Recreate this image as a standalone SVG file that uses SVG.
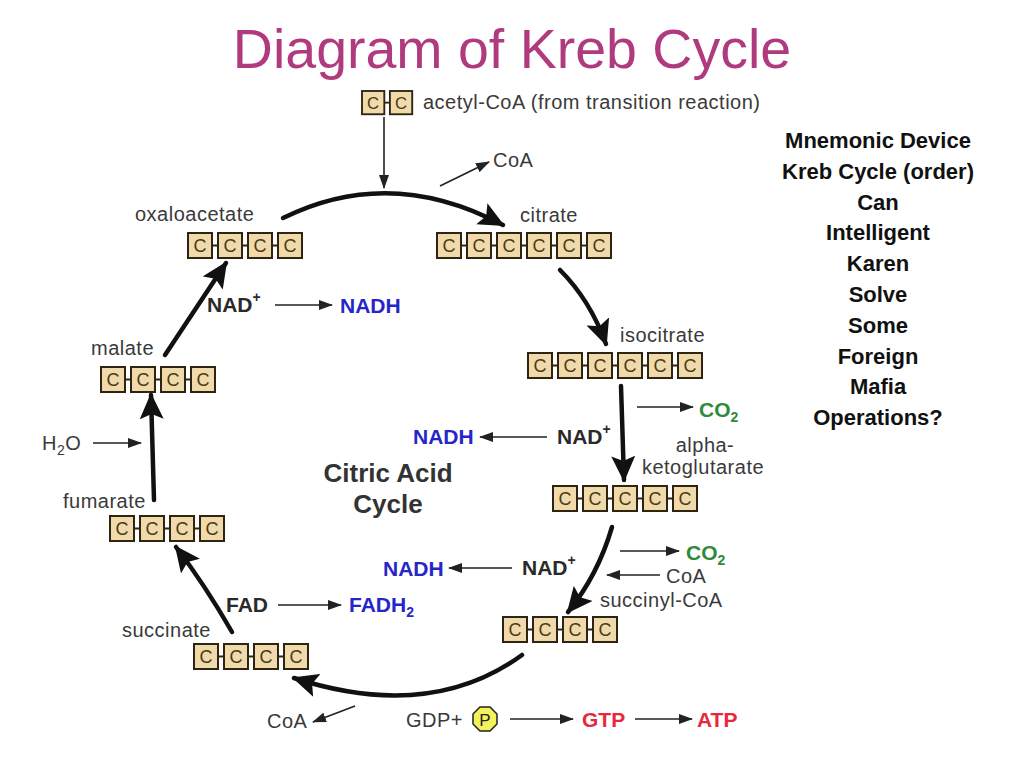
<svg xmlns="http://www.w3.org/2000/svg" xmlns:xlink="http://www.w3.org/1999/xlink" width="1024" height="768" viewBox="0 0 1024 768">
<style>
.lbl{font-family:"Liberation Sans",Arial,sans-serif;font-size:20px;letter-spacing:0.5px;fill:#3a3a3a}
.b{font-family:"Liberation Sans",Arial,sans-serif;font-size:21px;font-weight:bold;fill:#2a2a2a}
.blue{fill:#2626c8}
.green{fill:#2e8b3a}
.red{fill:#e8283c}
.mn{font-family:"Liberation Sans",Arial,sans-serif;font-size:22px;font-weight:bold;fill:#111;text-anchor:middle}
.box{fill:#f0d9ab;stroke:#2e2410;stroke-width:2}
.ct{font-family:"Liberation Sans",Arial,sans-serif;font-size:18px;fill:#4a3a12;text-anchor:middle}
.link{stroke:#2e2410;stroke-width:2;fill:none}
.big{fill:none;stroke:#111;stroke-width:4.5;stroke-linecap:round;marker-end:url(#bh)}
.thin{fill:none;stroke:#222;stroke-width:1.6;marker-end:url(#th)}
</style>
<defs>
<marker id="bh" markerUnits="userSpaceOnUse" markerWidth="28" markerHeight="24" refX="24" refY="12" orient="auto"><path d="M0,0 L26,12 L0,24 L5,12 z" fill="#111"/></marker>
<marker id="th" markerUnits="userSpaceOnUse" markerWidth="14" markerHeight="10" refX="13" refY="5" orient="auto"><path d="M0,0 L14,5 L0,10 z" fill="#222"/></marker>
<g id="c"><rect class="box" x="0" y="0" width="24" height="25"/><text class="ct" x="12" y="19">C</text></g>
</defs>
<rect width="1024" height="768" fill="#ffffff"/>
<text x="512" y="68" text-anchor="middle" font-family="'Liberation Sans',Arial,sans-serif" font-size="55.5" fill="#b03a7e">Diagram of Kreb Cycle</text>

<g id="mnemonic">
<text class="mn" x="878" y="148">Mnemonic Device</text>
<text class="mn" x="878" y="179">Kreb Cycle (order)</text>
<text class="mn" x="878" y="210">Can</text>
<text class="mn" x="878" y="240">Intelligent</text>
<text class="mn" x="878" y="271">Karen</text>
<text class="mn" x="878" y="302">Solve</text>
<text class="mn" x="878" y="333">Some</text>
<text class="mn" x="878" y="364">Foreign</text>
<text class="mn" x="878" y="394">Mafia</text>
<text class="mn" x="878" y="425">Operations?</text>
</g>

<g id="acetyl-coa">
<g transform="translate(362,91) scale(0.93)"><use href="#c" x="0"/><use href="#c" x="30"/><path class="link" d="M24,12.5h6"/></g>
<text class="lbl" x="423" y="109">acetyl-CoA (from transition reaction)</text>
</g>

<g id="oxaloacetate">
<text class="lbl" x="135" y="221">oxaloacetate</text>
<g transform="translate(188,233)"><use href="#c" x="0"/><use href="#c" x="30"/><use href="#c" x="60"/><use href="#c" x="90"/><path class="link" d="M24,12.5h6M54,12.5h6M84,12.5h6"/></g>
</g>

<g id="citrate">
<text class="lbl" x="520" y="222">citrate</text>
<g transform="translate(437,233)"><use href="#c" x="0"/><use href="#c" x="30"/><use href="#c" x="60"/><use href="#c" x="90"/><use href="#c" x="120"/><use href="#c" x="150"/><path class="link" d="M24,12.5h6M54,12.5h6M84,12.5h6M114,12.5h6M144,12.5h6"/></g>
</g>

<g id="isocitrate">
<text class="lbl" x="620" y="342">isocitrate</text>
<g transform="translate(528,353)"><use href="#c" x="0"/><use href="#c" x="30"/><use href="#c" x="60"/><use href="#c" x="90"/><use href="#c" x="120"/><use href="#c" x="150"/><path class="link" d="M24,12.5h6M54,12.5h6M84,12.5h6M114,12.5h6M144,12.5h6"/></g>
</g>

<g id="alpha-ketoglutarate">
<text class="lbl" x="705" y="452" text-anchor="middle">alpha-</text>
<text class="lbl" x="703" y="474" text-anchor="middle">ketoglutarate</text>
<g transform="translate(553,486)"><use href="#c" x="0"/><use href="#c" x="30"/><use href="#c" x="60"/><use href="#c" x="90"/><use href="#c" x="120"/><path class="link" d="M24,12.5h6M54,12.5h6M84,12.5h6M114,12.5h6"/></g>
</g>

<g id="succinyl-coa">
<text class="lbl" x="600" y="607">succinyl-CoA</text>
<g transform="translate(503,617)"><use href="#c" x="0"/><use href="#c" x="30"/><use href="#c" x="60"/><use href="#c" x="90"/><path class="link" d="M24,12.5h6M54,12.5h6M84,12.5h6"/></g>
</g>

<g id="succinate">
<text class="lbl" x="122" y="637">succinate</text>
<g transform="translate(194,644)"><use href="#c" x="0"/><use href="#c" x="30"/><use href="#c" x="60"/><use href="#c" x="90"/><path class="link" d="M24,12.5h6M54,12.5h6M84,12.5h6"/></g>
</g>

<g id="fumarate">
<text class="lbl" x="63" y="508">fumarate</text>
<g transform="translate(110,516)"><use href="#c" x="0"/><use href="#c" x="30"/><use href="#c" x="60"/><use href="#c" x="90"/><path class="link" d="M24,12.5h6M54,12.5h6M84,12.5h6"/></g>
</g>

<g id="malate">
<text class="lbl" x="91" y="355">malate</text>
<g transform="translate(101,367)"><use href="#c" x="0"/><use href="#c" x="30"/><use href="#c" x="60"/><use href="#c" x="90"/><path class="link" d="M24,12.5h6M54,12.5h6M84,12.5h6"/></g>
</g>

<g id="center-label">
<text x="388" y="482" text-anchor="middle" font-family="'Liberation Sans',Arial,sans-serif" font-size="26" font-weight="bold" fill="#333">Citric Acid</text>
<text x="388" y="513" text-anchor="middle" font-family="'Liberation Sans',Arial,sans-serif" font-size="26" font-weight="bold" fill="#333">Cycle</text>
</g>

<g id="side-products">
<text class="lbl" x="493" y="167">CoA</text>
<text class="b" x="207" y="312">NAD<tspan dy="-10" font-size="14">+</tspan></text>
<text class="b blue" x="340" y="313">NADH</text>
<text class="b green" x="699" y="417">CO<tspan dy="5" font-size="14">2</tspan></text>
<text class="b" x="557" y="444">NAD<tspan dy="-10" font-size="14">+</tspan></text>
<text class="b blue" x="413" y="444">NADH</text>
<text class="b green" x="686" y="560">CO<tspan dy="5" font-size="14">2</tspan></text>
<text class="lbl" x="666" y="583">CoA</text>
<text class="b" x="522" y="575">NAD<tspan dy="-10" font-size="14">+</tspan></text>
<text class="b blue" x="383" y="576">NADH</text>
<text class="b" x="226" y="612">FAD</text>
<text class="b blue" x="349" y="612">FADH<tspan dy="5" font-size="14">2</tspan></text>
<text class="lbl" x="42" y="450">H<tspan dy="5" font-size="14">2</tspan><tspan dy="-5">O</tspan></text>
<text class="lbl" x="267" y="728">CoA</text>
<text class="lbl" x="406" y="727" fill="#222">GDP+</text>
<g id="phosphate"><path d="M480,707 L490,707 L497,714 L497,724 L490,731 L480,731 L473,724 L473,714 z" fill="#f2f25a" stroke="#222" stroke-width="1.5"/><text x="485" y="726" text-anchor="middle" font-family="'Liberation Sans',Arial,sans-serif" font-size="17" fill="#222">P</text></g>
<text class="b red" x="582" y="727">GTP</text>
<text class="b red" x="697" y="727">ATP</text>
</g>

<g id="connectors">
<path class="thin" d="M384,117 V188"/>
<path class="thin" d="M440,186 L489,162"/>
<path class="big" d="M283,218 Q390,165 503,225"/>
<path class="big" d="M560,270 Q590,300 606,344"/>
<path class="big" d="M621,386 L624,480"/>
<path class="big" d="M612,527 Q598,575 568,612"/>
<path class="big" d="M522,655 Q430,722 294,678"/>
<path class="big" d="M232,632 Q205,585 176,547"/>
<path class="big" d="M154,500 L151,395"/>
<path class="big" d="M165,355 L226,263"/>
<path class="thin" d="M275,305 H332"/>
<path class="thin" d="M637,407 H693"/>
<path class="thin" d="M547,437 H480"/>
<path class="thin" d="M620,551 H679"/>
<path class="thin" d="M660,575 H607"/>
<path class="thin" d="M512,568 H449"/>
<path class="thin" d="M278,605 H341"/>
<path class="thin" d="M93,443 H141"/>
<path class="thin" d="M355,706 L313,722"/>
<path class="thin" d="M510,719 H573"/>
<path class="thin" d="M635,719 H692" stroke="#555"/>
</g>
</svg>
